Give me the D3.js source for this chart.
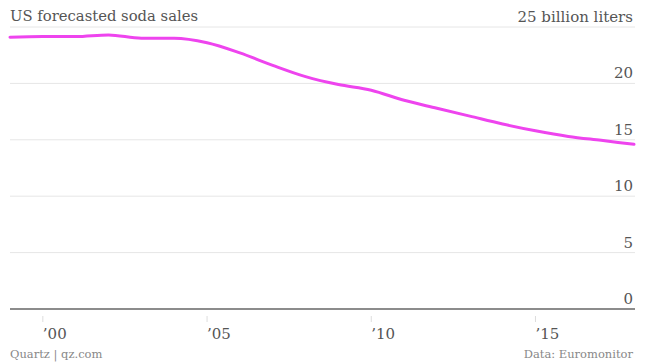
<!DOCTYPE html>
<html>
<head>
<meta charset="utf-8">
<script src="https://cdn.jsdelivr.net/npm/d3@7"></script>
<style>
  body { margin: 0; background: #fff; }
  text { font-family: "DejaVu Serif", serif; }
</style>
</head>
<body>
<div id="chart"></div>
<script>
// Data (billion liters)
const years = [1999, 2000, 2001, 2002, 2003, 2004, 2005, 2006, 2007, 2008,
               2009, 2010, 2011, 2012, 2013, 2014, 2015, 2016, 2017, 2018];
const sales = [24.1, 24.15, 24.15, 24.3, 24.0, 24.0, 23.6, 22.7, 21.6, 20.6,
               19.9, 19.4, 18.5, 17.8, 17.1, 16.4, 15.8, 15.3, 14.95, 14.6];
const yTicks = [0, 5, 10, 15, 20, 25];
const xTicks = [2000, 2005, 2010, 2015];

const width = 645;
const height = 363;
const margin = { left: 10, right: 10, top: 27, bottom: 54 };

const svg = d3.select("#chart")
    .append("svg")
    .attr("width", width)
    .attr("height", height);

const x = d3.scaleLinear()
    .domain([1999, 2018])
    .range([margin.left, width - 11]);

const y = d3.scaleLinear()
    .domain([0, 25])
    .range([height - margin.bottom, margin.top]);

// gridlines
svg.append("g")
  .selectAll("line")
  .data(yTicks.filter(d => d > 0))
  .enter().append("line")
    .attr("x1", margin.left)
    .attr("x2", width - 10)
    .attr("y1", d => y(d))
    .attr("y2", d => y(d))
    .attr("stroke", "#e6e6e6")
    .attr("stroke-width", 1);

// y labels sit above their gridline, right aligned
svg.append("g")
  .selectAll("text")
  .data(yTicks)
  .enter().append("text")
    .attr("x", width - 12)
    .attr("y", d => y(d) - 5)
    .attr("text-anchor", "end")
    .attr("fill", "#555")
    .style("font-size", "15px")
    .text(d => d === 25 ? "25 billion liters" : d);

// baseline
svg.append("line")
    .attr("x1", margin.left)
    .attr("x2", width - 10)
    .attr("y1", y(0))
    .attr("y2", y(0))
    .attr("stroke", "#666")
    .attr("stroke-width", 1.5);

// x ticks and labels
const xg = svg.append("g");
xg.selectAll("line")
  .data(xTicks)
  .enter().append("line")
    .attr("x1", d => x(d))
    .attr("x2", d => x(d))
    .attr("y1", y(0) + 7)
    .attr("y2", y(0) + 13)
    .attr("stroke", "#ddd");

xg.selectAll("text")
  .data(xTicks)
  .enter().append("text")
    .attr("x", d => x(d))
    .attr("y", y(0) + 30)
    .attr("fill", "#555")
    .style("font-size", "15px")
    .text(d => "\u2019" + String(d).slice(2));

// the line
const line = d3.line()
    .x((d, i) => x(years[i]))
    .y(d => y(d))
    .curve(d3.curveMonotoneX);

svg.append("path")
    .datum(sales)
    .attr("d", line)
    .attr("fill", "none")
    .attr("stroke", "#ee44ee")
    .attr("stroke-width", 3)
    .attr("stroke-linecap", "round");

// title and footer
svg.append("text")
    .attr("x", 10)
    .attr("y", 21)
    .attr("fill", "#555")
    .style("font-size", "14.8px")
    .text("US forecasted soda sales");

svg.append("text")
    .attr("x", 10)
    .attr("y", 358)
    .attr("fill", "#888")
    .style("font-size", "11.5px")
    .text("Quartz | qz.com");

svg.append("text")
    .attr("x", width - 12)
    .attr("y", 358)
    .attr("text-anchor", "end")
    .attr("fill", "#888")
    .style("font-size", "11.5px")
    .text("Data: Euromonitor");
</script>
</body>
</html>
